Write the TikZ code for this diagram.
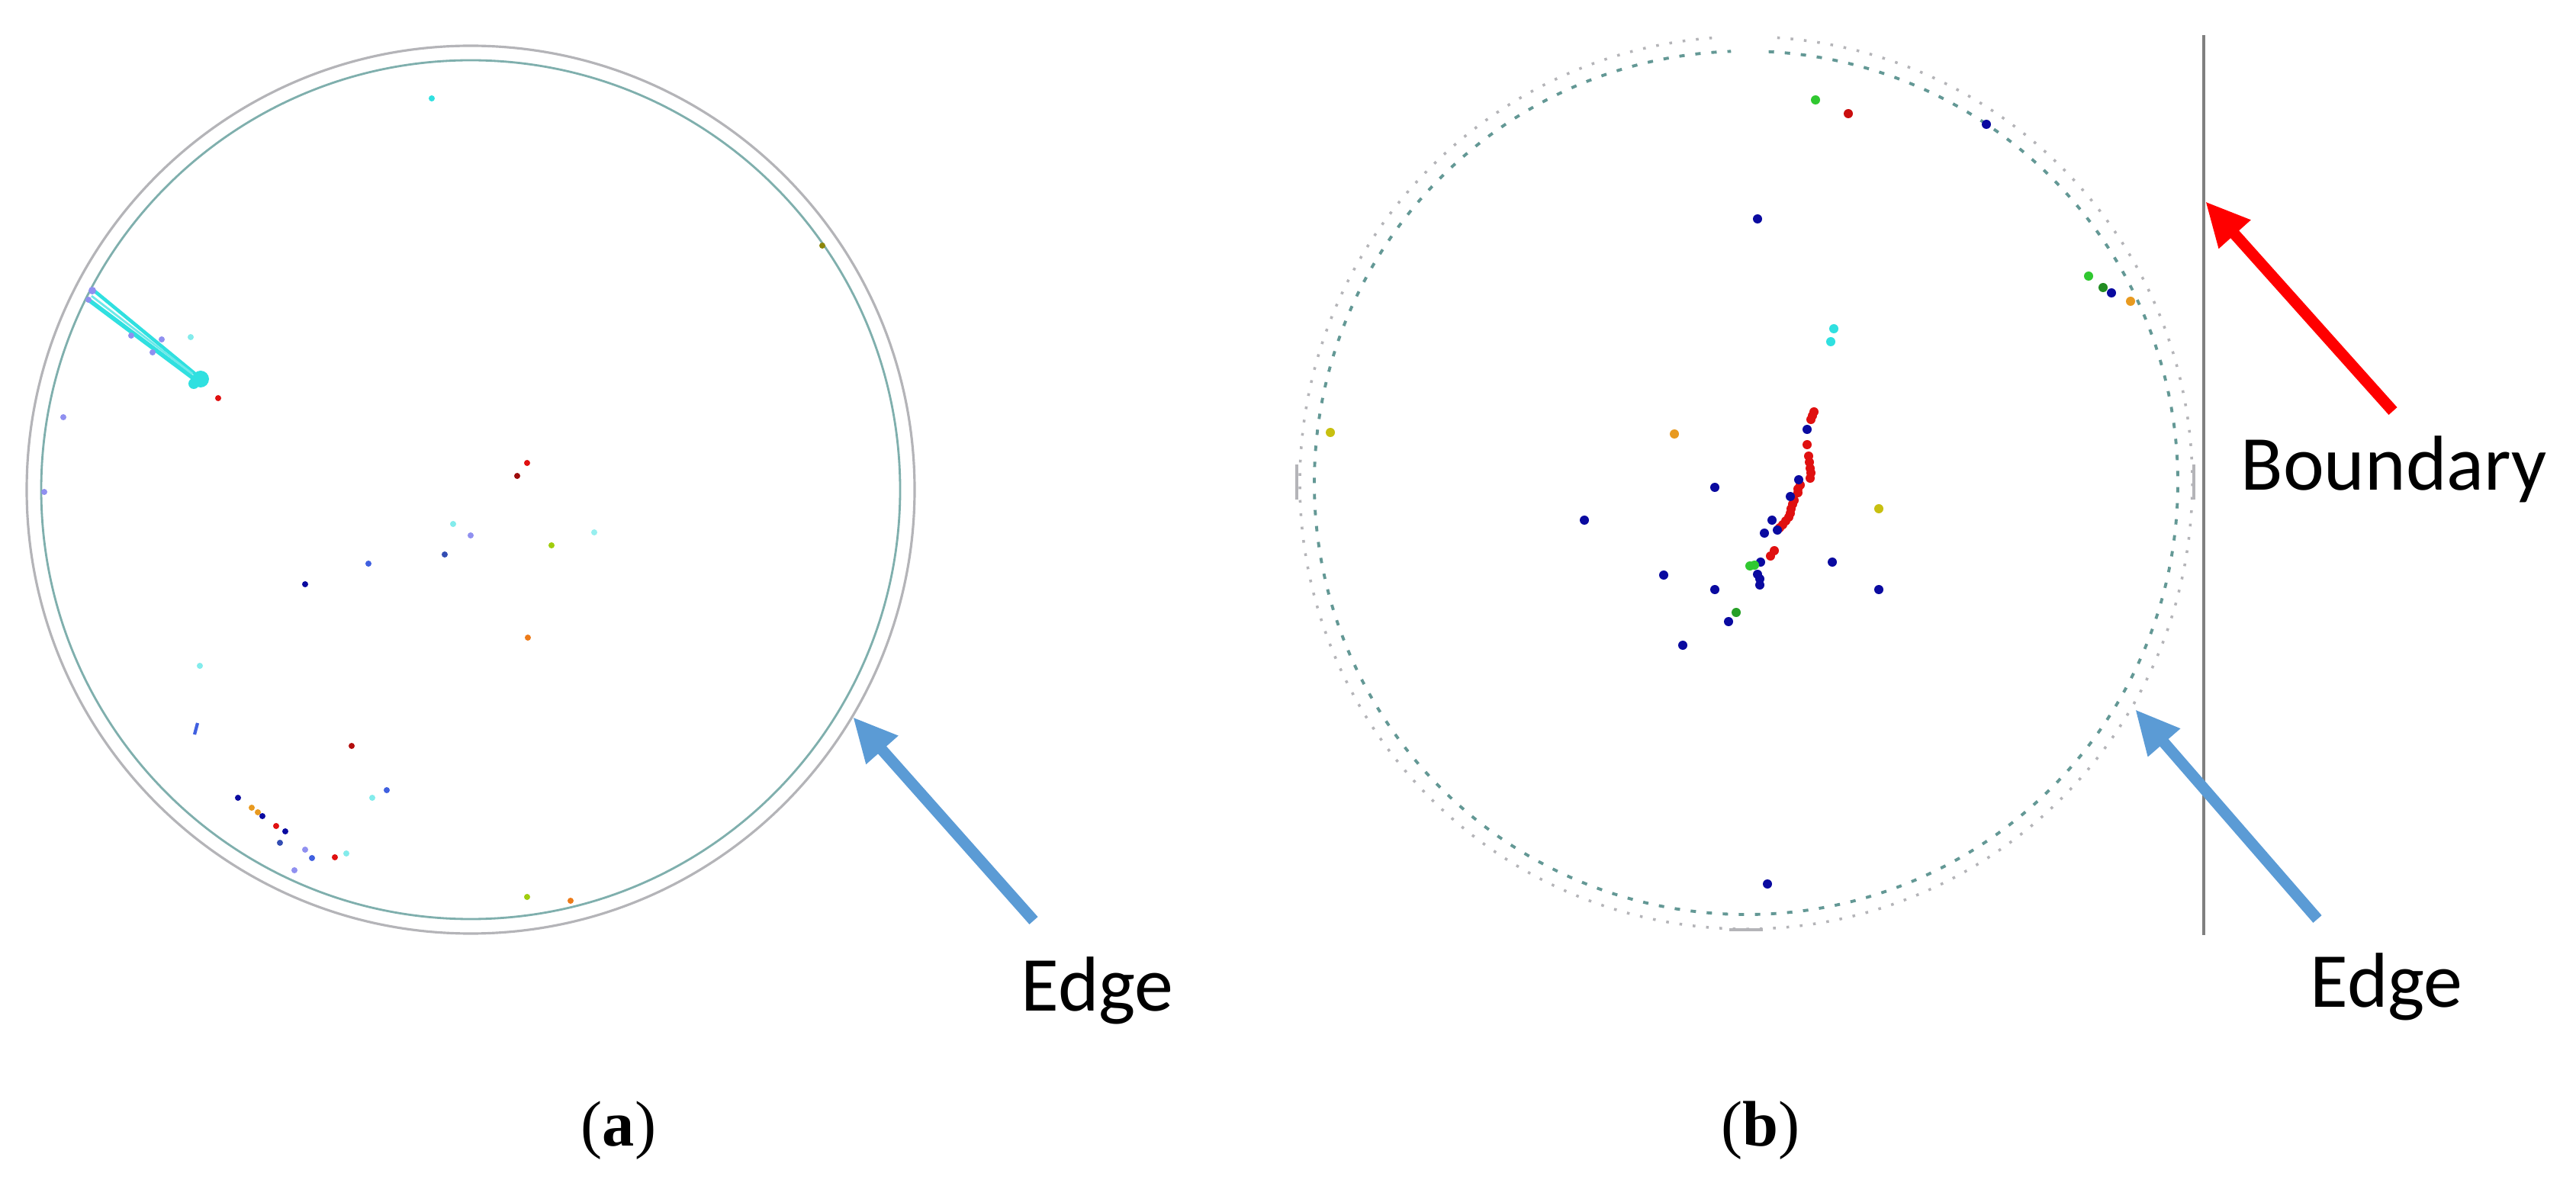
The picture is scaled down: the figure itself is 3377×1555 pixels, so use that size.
\documentclass[tikz,border=0pt]{standalone}
\usepackage{fontspec}
\setmainfont{Liberation Serif}
\newfontfamily\calib{Carlito}
\usetikzlibrary{arrows.meta}
\definecolor{edgeblue}{HTML}{5B9BD5}
\definecolor{ringgray}{HTML}{B4B4B8}
\definecolor{ringteal}{HTML}{7FAFAD}
\definecolor{dteal}{HTML}{3C7F7A}
\definecolor{pnavy}{HTML}{0A0AA0}
\definecolor{pred}{HTML}{E01010}
\definecolor{pgreen}{HTML}{30C830}
\definecolor{porange}{HTML}{E89A20}
\definecolor{pyellow}{HTML}{C8C010}
\definecolor{pcyan}{HTML}{30E0E0}
\definecolor{plav}{HTML}{9090F0}
\definecolor{pblue}{HTML}{4060E0}
\tikzset{
  callout/.style={line width=4.2pt,-{Triangle[length=0.58cm,width=0.52cm]}},
  lbl/.style={font=\calib\fontsize{29}{35}\selectfont,inner sep=0pt,anchor=base west},
  captxt/.style={font=\fontsize{24}{29}\selectfont,inner sep=0pt,anchor=base},
}
\newcommand\ldot[3]{\fill[#1] (#2,#3) circle (4);}
\newcommand\rdot[3]{\fill[#1] (#2,#3) circle (6);}
\begin{document}
\begin{tikzpicture}[x=0.01cm,y=-0.01cm]
\useasboundingbox (0,0) rectangle (3377,1555);
\fill[white] (0,0) rectangle (3377,1555);

% ---------- panel (a) ----------
\coordinate (ca) at (617,642);
\draw[ringgray,line width=0.9pt] (ca) circle (582);
\draw[ringteal,line width=0.8pt] (ca) circle (563);
% streak
\draw[pcyan,line width=1.3pt] (122,380) -- (258,492);
\draw[pcyan,line width=1.6pt] (116,393) -- (255,497);
\draw[pcyan!70,line width=0.8pt] (120,388) -- (252,490);
\fill[pcyan] (263,497) circle (11);
\fill[pcyan] (254,503) circle (7);
\fill[plav] (121,381) circle (5);
\fill[plav] (116,393) circle (4);
\ldot{plav}{172}{440}
\ldot{plav}{212}{445}
\ldot{plav}{200}{462}
\ldot{pcyan}{566}{129}
\ldot{pyellow!70!black}{1078}{322}
\ldot{plav}{83}{547}
\ldot{plav}{58}{645}
\ldot{pred}{286}{522}
\ldot{pcyan!60}{250}{442}
\ldot{pred}{691}{607}
\ldot{pred!70!black}{678}{624}
\ldot{pcyan!60}{594}{687}
\ldot{plav}{617}{702}
\ldot{pblue!80!black}{583}{727}
\ldot{pyellow!80!green}{723}{715}
\ldot{pcyan!50}{779}{698}
\ldot{pblue}{483}{739}
\ldot{pnavy}{400}{766}
\ldot{porange!80!red}{692}{836}
\ldot{pcyan!60}{262}{873}
\draw[pblue,line width=1.2pt] (259,948) -- (255,963);
\ldot{pred!80!black}{461}{978}
\ldot{pblue}{507}{1036}
\ldot{pcyan!60}{488}{1046}
\ldot{pnavy}{312}{1046}
\ldot{porange}{330}{1059}
\ldot{porange}{338}{1065}
\ldot{pnavy}{344}{1070}
\ldot{pred}{362}{1083}
\ldot{pnavy}{374}{1090}
\ldot{pblue!80!black}{367}{1105}
\ldot{plav}{400}{1114}
\ldot{pblue}{409}{1125}
\ldot{pcyan!60}{454}{1119}
\ldot{pred}{439}{1124}
\ldot{plav}{386}{1141}
\ldot{pyellow!80!green}{691}{1176}
\ldot{porange!80!red}{748}{1181}

\coordinate (ea) at (1118,940);
\coordinate (eat) at (1355,1207);
\draw[callout,edgeblue] (eat) -- (ea);
\node[lbl] (edgea) at (1338,1325) {Edge};
\node[captxt] (capa) at (811,1502) {(\textbf{a})};

% ---------- panel (b) ----------
\coordinate (cb) at (2289,633);
\draw[ringgray,line width=1pt,dash pattern=on 1pt off 4pt] (cb) ++(274:585) arc (274:626:585);
\draw[dteal!80,line width=1.1pt,dash pattern=on 2pt off 4pt] (cb) ++(273:566) arc (273:628:566);
\draw[ringgray,line width=0.9pt] (1700,609) -- (1700,655);
\draw[ringgray,line width=0.9pt] (2876,609) -- (2876,655);
\draw[ringgray,line width=0.9pt] (2267,1219) -- (2311,1219);
% red chain
\foreach \x/\y in {2378/540,2376/545,2374/550,2369/583,2371/598,2372/606,2373/614,2374/620,2373/627,2360/636,2357/641,2357/646,2352/656,2350/661,2348/667,2347/673,2345/678,2341/683,2337/688,2333/692,2326/722,2321/729}{\rdot{pred}{\x}{\y}}
\foreach \x/\y in {2369/563,2358/629,2347/651,2323/682,2313/699,2330/695,2308/737,2304/753,2307/759,2307/767,2248/639,2402/737,2248/773,2463/773,2266/815,2206/846,2304/287,2768/384,2317/1159,2077/682,2181/754,2604/163}{\rdot{pnavy}{\x}{\y}}
\rdot{pgreen}{2300}{741}
\rdot{pgreen}{2294}{742}
\rdot{pgreen}{2380}{131}
\rdot{pgreen}{2738}{362}
\rdot{pgreen!70!black}{2757}{377}
\rdot{pgreen!80!black}{2276}{803}
\rdot{pred!90!black}{2423}{149}
\rdot{porange}{2793}{395}
\rdot{porange}{2195}{569}
\rdot{pyellow}{1744}{567}
\rdot{pyellow}{2463}{667}
\rdot{pcyan}{2404}{431}
\rdot{pcyan}{2400}{448}

\coordinate (btop) at (2889,46);
\coordinate (bbot) at (2889,1226);
\draw[gray,line width=0.9pt] (btop) -- (bbot);

\coordinate (rb) at (2891,264);
\coordinate (rbt) at (3137,539);
\draw[callout,red] (rbt) -- (rb);
\node[lbl] (bound) at (2937,643) {Boundary};

\coordinate (eb) at (2799,930);
\coordinate (ebt) at (3038,1205);
\draw[callout,edgeblue] (ebt) -- (eb);
\node[lbl] (edgeb) at (3028,1320) {Edge};
\node[captxt] (capb) at (2308,1502) {(\textbf{b})};
\end{tikzpicture}
\end{document}
